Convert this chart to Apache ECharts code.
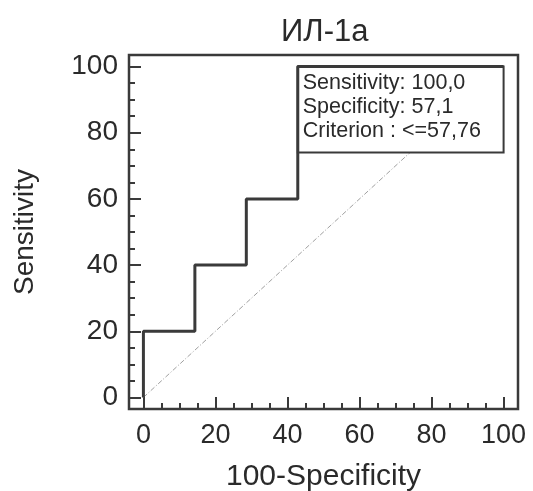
<!DOCTYPE html>
<html>
<head>
<meta charset="utf-8">
<script src="https://cdn.jsdelivr.net/npm/echarts@6/dist/echarts.min.js"></script>
<style>html,body{margin:0;padding:0;background:#fff;}#c{width:533px;height:491px;}</style>
</head>
<body>
<div id="c"></div>
<script>
// ROC operating points (100-Specificity, Sensitivity)
const rocFpr = [0, 0, 14.29, 28.57, 42.86, 100];
const rocTpr = [0, 20, 40, 60, 100, 100];
// reference diagonal
const diagFpr = [0, 100];
const diagTpr = [0, 100];
const majorTicks = [0, 20, 40, 60, 80, 100];
const minorTicks = [0,5,10,15,20,25,30,35,40,45,50,55,60,65,70,75,80,85,90,95,100];
const infoLines = ['Sensitivity: 100,0', 'Specificity: 57,1', 'Criterion : <=57,76'];
const titleText = 'ИЛ-1а';

const FONT = '"Liberation Sans", Arial, sans-serif';
const DARK = '#3a3a3a';
const TXT = '#2a2a2a';
const chart = echarts.init(document.getElementById('c'));

const xBase = {type: 'value', min: -4, max: 104, gridIndex: 0, position: 'bottom',
  splitLine: {show: false}, axisLine: {show: false, onZero: false}};
const yBase = {type: 'value', min: -3.5, max: 103.5, gridIndex: 0, position: 'left',
  splitLine: {show: false}, axisLine: {show: false, onZero: false}};

chart.setOption({
  backgroundColor: '#fff',
  animation: false,
  title: {text: titleText, left: 276, top: 12,
    textStyle: {fontFamily: FONT, fontSize: 31, fontWeight: 'normal', color: TXT}},
  grid: {left: 129, right: 15, top: 55, bottom: 82, show: true,
    borderColor: DARK, borderWidth: 2.5, backgroundColor: '#fff', outerBoundsMode: 'none', containLabel: false},
  xAxis: [
    Object.assign({}, xBase, {
      name: '100-Specificity', nameLocation: 'middle', nameGap: 53,
      nameTextStyle: {fontFamily: FONT, fontSize: 30, color: TXT},
      axisTick: {show: true, inside: true, length: 12, customValues: majorTicks, lineStyle: {color: DARK, width: 2}},
      axisLabel: {show: true, customValues: majorTicks, margin: 13, fontFamily: FONT, fontSize: 27, color: TXT}
    }),
    Object.assign({}, xBase, {
      axisTick: {show: true, inside: true, length: 6, customValues: minorTicks, lineStyle: {color: DARK, width: 2}},
      axisLabel: {show: false}
    })
  ],
  yAxis: [
    Object.assign({}, yBase, {
      name: 'Sensitivity', nameLocation: 'middle', nameGap: 90,
      nameTextStyle: {fontFamily: FONT, fontSize: 28, color: TXT},
      axisTick: {show: true, inside: true, length: 12, customValues: majorTicks, lineStyle: {color: DARK, width: 2}},
      axisLabel: {show: true, customValues: majorTicks, margin: 11, fontFamily: FONT, fontSize: 28, color: TXT}
    }),
    Object.assign({}, yBase, {
      axisTick: {show: true, inside: true, length: 6, customValues: minorTicks, lineStyle: {color: DARK, width: 2}},
      axisLabel: {show: false}
    })
  ],
  series: [
    {type: 'line', z: 1, xAxisIndex: 0, yAxisIndex: 0, symbol: 'none',
      data: diagFpr.map((v, i) => [v, diagTpr[i]]),
      lineStyle: {color: '#a0a0a0', width: 1, type: [5, 2, 1, 2]}},
    {type: 'line', z: 5, xAxisIndex: 0, yAxisIndex: 0, symbol: 'none', step: 'end',
      data: rocFpr.map((v, i) => [v, rocTpr[i]]),
      lineStyle: {color: DARK, width: 3}}
  ]
});

// info box anchored in data coordinates
const p1 = chart.convertToPixel({xAxisIndex: 0, yAxisIndex: 0}, [42.86, 100]);
const p2 = chart.convertToPixel({xAxisIndex: 0, yAxisIndex: 0}, [100, 74]);
chart.setOption({
  graphic: [
    {type: 'rect', z: 3, shape: {x: p1[0], y: p1[1], width: p2[0] - p1[0], height: p2[1] - p1[1]},
      style: {fill: '#fff', stroke: DARK, lineWidth: 2}},
    {type: 'text', z: 4, left: p1[0] + 5, top: p1[1] + 4,
      style: {text: infoLines.join('\n'), fontFamily: FONT, fontSize: 21.5, lineHeight: 24, fill: TXT}}
  ]
});
</script>
</body>
</html>
